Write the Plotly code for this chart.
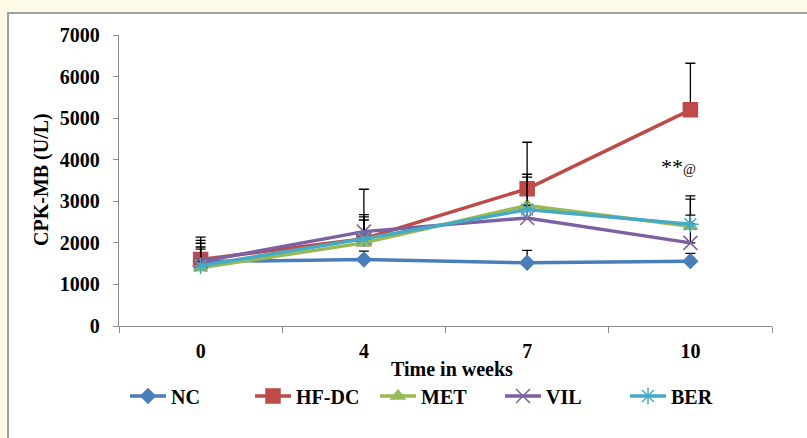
import plotly.graph_objects as go

weeks = ["0", "4", "7", "10"]
series_names = ["NC", "HF-DC", "MET", "VIL", "BER"]
nc = [1550, 1600, 1520, 1560]
hfdc = [1600, 2100, 3300, 5200]
met = [1400, 2000, 2900, 2400]
vil = [1550, 2270, 2600, 2000]
ber = [1450, 2100, 2800, 2450]
nc_err = [300, 200, 300, 185]
hfdc_err = [540, 1190, 1120, 1120]
met_err = [500, 550, 750, 650]
vil_err = [510, 410, 300, 665]
ber_err = [540, 525, 780, 680]
y_ticks = [0, 1000, 2000, 3000, 4000, 5000, 6000, 7000]

values = [nc, hfdc, met, vil, ber]
errors = [nc_err, hfdc_err, met_err, vil_err, ber_err]
colors = ["#4a7ebb", "#be4b48", "#98b954", "#7d60a0", "#46aac5"]
symbols = ["diamond", "square", "triangle-up", "x-thin-open", "asterisk-open"]
sizes = [11, 14, 12, 14, 14]

fig = go.Figure()
for name, v, e, c, s, sz in zip(series_names, values, errors, colors, symbols, sizes):
    fig.add_trace(go.Scatter(
        x=weeks, y=v, name=name, mode="lines+markers",
        line=dict(color=c, width=3.5),
        marker=dict(symbol=s, size=sz, color=c, line=dict(color=c, width=1.5)),
        error_y=dict(type="data", symmetric=False, array=e,
                     arrayminus=[0] * len(e), color="black",
                     thickness=1.3, width=5),
    ))

L, R, T, B = 119, 35, 35, 112
W, H = 807, 438
pw, ph = W - L - R, H - T - B

def px(x):
    return (x - L) / pw

def py(y):
    return (H - B - y) / ph

serif = "Liberation Serif"

fig.add_shape(type="rect", xref="paper", yref="paper",
              x0=px(8), x1=px(812), y0=py(13), y1=py(445),
              fillcolor="white", line=dict(color="#a0a0a0", width=2),
              layer="below")

fig.add_annotation(xref="paper", yref="paper", x=px(41), y=py(180),
                   xanchor="center", yanchor="middle",
                   text="CPK-MB (U/L)", textangle=-90, showarrow=False,
                   font=dict(family=serif, size=20, color="black", weight="bold"))
fig.add_annotation(xref="paper", yref="paper", x=px(452), y=py(369),
                   xanchor="center", yanchor="middle",
                   text="Time in weeks", showarrow=False,
                   font=dict(family=serif, size=20, color="black", weight="bold"))
fig.add_annotation(x=3, y=3830, xref="x", yref="y", xshift=-12,
                   text="**<span style='font-size:14px'>@</span>",
                   showarrow=False,
                   font=dict(family=serif, size=22, color="black"))

fig.update_layout(
    width=W, height=H,
    margin=dict(l=L, r=R, t=T, b=B, autoexpand=False),
    paper_bgcolor="#fffae6",
    plot_bgcolor="rgba(0,0,0,0)",
    showlegend=True,
    legend=dict(orientation="h", x=px(125), y=py(396), xanchor="left",
                yanchor="middle", entrywidth=74, entrywidthmode="pixels",
                font=dict(family=serif, size=20, color="black", weight="bold"),
                itemwidth=36, bgcolor="rgba(0,0,0,0)", tracegroupgap=0),
    font=dict(family=serif, color="black"),
)
fig.update_xaxes(type="category", range=[-0.5, 3.5], showline=True,
                 linecolor="#8c8c8c", linewidth=1.3, ticks="outside",
                 tickson="boundaries", ticklen=6, tickcolor="#8c8c8c",
                 showgrid=False, zeroline=False, ticklabelstandoff=7,
                 tickfont=dict(family=serif, size=20, color="black", weight="bold"))
fig.update_yaxes(range=[0, 7000], tickvals=y_ticks, showline=True,
                 linecolor="#8c8c8c", linewidth=1.3, ticks="outside",
                 ticklen=5, tickcolor="#8c8c8c", showgrid=False,
                 zeroline=False, ticklabelstandoff=9,
                 tickfont=dict(family=serif, size=20, color="black", weight="bold"))

fig.write_html("out.html", config={"displayModeBar": False},
               post_script="document.body.style.margin='0px';")
